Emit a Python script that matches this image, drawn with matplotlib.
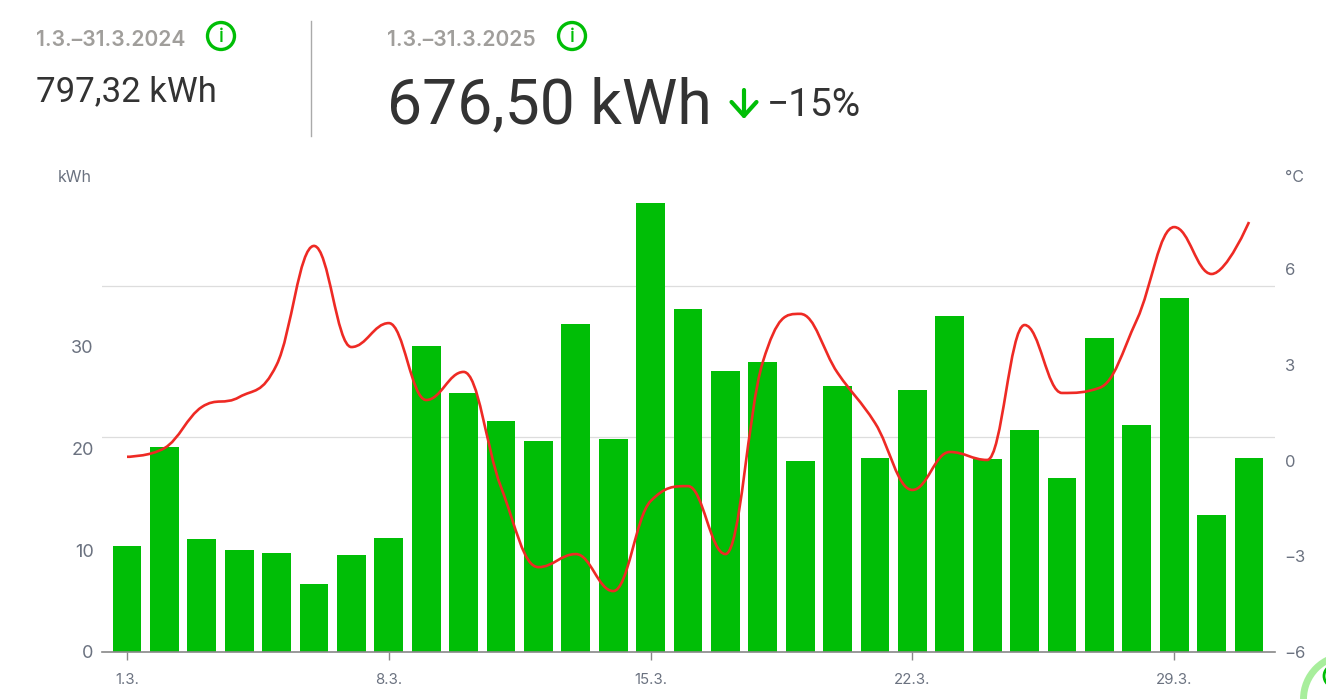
import numpy as np
import matplotlib
matplotlib.use("Agg")
import matplotlib.pyplot as plt
from matplotlib.path import Path
from matplotlib.patches import PathPatch, Circle, FancyArrowPatch

plt.rcParams['font.family'] = ['Inter', 'DejaVu Sans']

days = np.arange(1, 32)
# kWh per day
energy = [10.4, 20.15, 11.1, 10.0, 9.75, 6.7, 9.55, 11.2, 30.1, 25.45, 22.7, 20.75, 32.25, 20.95, 44.15,
          33.7, 27.65, 28.5, 18.8, 26.15, 19.1, 25.75, 33.05, 19.0, 21.8, 17.1, 30.9, 22.3, 34.8, 13.45, 19.1]
# degC per day
temp = [0.12, 0.39, 1.68, 1.99, 3.0, 6.73, 3.56, 4.31, 1.9, 2.78, -0.83, -3.34, -2.93, -4.09, -1.27,
        -0.8, -2.93, 3.09, 4.6, 2.75, 1.18, -0.92, 0.27, 0.02, 4.25, 2.12, 2.28, 4.41, 7.32, 5.85, 7.48]
left_ticks = [0, 10, 20, 30]
right_ticks = [-6, -3, 0, 3, 6]
grid_values = [21.1, 36.0]
date_ticks = [1, 8, 15, 22, 29]
date_labels = ['1.3.', '8.3.', '15.3.', '22.3.', '29.3.']

W, H = 1326, 699
GREEN = '#00BE06'
TXT = '#333333'
GREY = '#A09E9B'
TICK = '#6B7280'

fig = plt.figure(figsize=(W / 100, H / 100), dpi=100)

# main axes, pixel positions from the screenshot
ax = fig.add_axes([102 / W, (H - 652) / H, (1275 - 102) / W, (652 - 160) / H])
ax.set_xlim(1 + (102 - 127) / 37.4, 1 + (1275 - 127) / 37.4)
ax.set_ylim(0, 492 / 10.17)
ax.bar(days, energy, width=0.775, color=GREEN, zorder=2)
for g in grid_values:
    ax.axhline(g, color='#DDDDDD', lw=0.9, zorder=1)
for s in ['top', 'left', 'right']:
    ax.spines[s].set_visible(False)
ax.spines['bottom'].set_color('#888888')
ax.spines['bottom'].set_linewidth(1.2)
ax.set_xticks(date_ticks)
ax.set_xticklabels(date_labels, fontsize=10.8, color=TICK)
ax.tick_params(axis='x', length=6, width=1, color='#888888', pad=9)
ax.set_yticks(left_ticks)
ax.set_yticklabels([str(t) for t in left_ticks], fontsize=13, color=TICK)
ax.tick_params(axis='y', length=0, pad=6)

ax2 = ax.twinx()
ax2.set_ylim(-6, -6 + 492 / 31.9)
ax2.set_yticks(right_ticks)
ax2.set_yticklabels([str(t).replace('-', '\u2212') for t in right_ticks], fontsize=12, color=TICK)
ax2.tick_params(axis='y', length=0, pad=7)
for s in ax2.spines.values():
    s.set_visible(False)

# smooth temperature line: handles 0.4 day long, clamped so they never overshoot a neighbour
t = np.array(temp)
left_h = t.copy()
right_h = t.copy()
for i in range(1, len(t) - 1):
    slope = (t[i + 1] - t[i - 1]) / 2
    left_h[i] = t[i] - 0.4 * slope
    right_h[i] = t[i] + 0.4 * slope
    lo, hi = min(t[i - 1], t[i]), max(t[i - 1], t[i])
    if left_h[i] > hi or left_h[i] < lo:
        left_h[i] = np.clip(left_h[i], lo, hi)
        right_h[i] = 2 * t[i] - left_h[i]
    lo, hi = min(t[i + 1], t[i]), max(t[i + 1], t[i])
    if right_h[i] > hi or right_h[i] < lo:
        right_h[i] = np.clip(right_h[i], lo, hi)
        left_h[i] = 2 * t[i] - right_h[i]
verts = [(days[0], t[0])]
codes = [Path.MOVETO]
for i in range(len(t) - 1):
    # first and last handle sit on the end point itself
    x1 = days[i] + 0.4 if i > 0 else days[i]
    x2 = days[i + 1] - 0.4 if i < len(t) - 2 else days[i + 1]
    verts += [(x1, right_h[i]), (x2, left_h[i + 1]), (days[i + 1], t[i + 1])]
    codes += [Path.CURVE4] * 3
ax2.add_patch(PathPatch(Path(verts, codes), fc='none', ec='#EE2A24', lw=1.9, zorder=5))

fig.text(58 / W, 1 - 177 / H, 'kWh', fontsize=11.5, color=TICK, va='center')
fig.text(1285 / W, 1 - 177 / H, '°C', fontsize=11.5, color=TICK, va='center')

# header
fig.text(36 / W, 1 - 40 / H, '1.3.–31.3.2024', fontsize=15.2, fontweight='semibold', color=GREY, va='center')
fig.text(387 / W, 1 - 40 / H, '1.3.–31.3.2025', fontsize=15.2, fontweight='semibold', color=GREY, va='center')
fig.text(36 / W, 1 - 92 / H, '797,32 kWh', fontsize=25, family=['Roboto', 'DejaVu Sans'], color=TXT, va='center')
fig.text(387 / W, 1 - 106 / H, '676,50 kWh', fontsize=45, family=['Roboto', 'DejaVu Sans'], color=TXT, va='center')
fig.text(767 / W, 1 - 105 / H, '\u221215%', fontsize=28, family=['Roboto', 'DejaVu Sans'], color=TXT, va='center')

# overlay in pixel coordinates for the icons and divider
ov = fig.add_axes([0, 0, 1, 1], zorder=10)
ov.set_xlim(0, W)
ov.set_ylim(H, 0)
ov.axis('off')
ov.plot([311, 311], [21, 136], color='#AAAAAA', lw=1)
for cx in [221, 572]:
    ov.add_patch(Circle((cx, 36), 13.5, fc='white', ec=GREEN, lw=2.4))
    ov.text(cx, 36.5, 'i', color=GREEN, fontsize=14, ha='center', va='center', fontweight='medium')
ov.add_patch(FancyArrowPatch((744, 90), (744, 119), arrowstyle='->,head_length=10,head_width=9',
                             color=GREEN, lw=3, shrinkA=0, shrinkB=0, mutation_scale=1))
# chat button cut off in the corner
ov.add_patch(Circle((1347, 699), 43.5, fc='white', ec='#A8EE9C', lw=5))
ov.add_patch(Circle((1335, 676), 11, fc='none', ec=GREEN, lw=2))

fig.savefig('out.png', dpi=100)
